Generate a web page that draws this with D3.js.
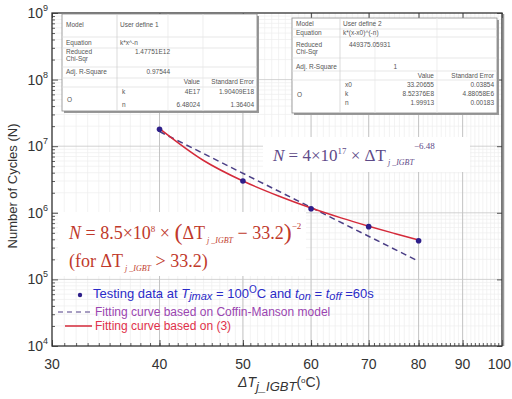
<!DOCTYPE html>
<html><head><meta charset="utf-8">
<script src="https://cdn.jsdelivr.net/npm/d3@7"></script>
<style>body{margin:0;background:#fff}svg{display:block}</style>
</head><body>
<svg id="c" width="512" height="399"></svg>
<script>
// ---- data ----
const testDT = [40, 50, 60, 70, 80];
const testN = [1.8e7, 3.0e6, 1.15e6, 6.2e5, 3.8e5];
const fitDT = [40, 45, 50, 55, 60, 65, 70, 75, 80];
const fitN = [1.84e7, 6.1e6, 3.0e6, 1.79e6, 1.18e6, 8.4e5, 6.3e5, 4.9e5, 3.9e5];
const cmDT = [40, 80];
const cmN = [1.66e7, 1.87e5];
const xTicks = [30, 40, 50, 60, 70, 80, 90, 100];
const yTicks = [1e4, 1e5, 1e6, 1e7, 1e8, 1e9];
const table1 = [["Model","User define 1"],["Equation","k*x^-n"],["Reduced\nChi-Sqr","1.47751E12"],["Adj. R-Square","0.97544"]];
const table1Params = [["k","4E17","1.90409E18"],["n","6.48024","1.36404"]];
const table2 = [["Model","User define 2"],["Equation","k*(x-x0)^(-n)"],["Reduced\nChi-Sqr","449375.05931"],["Adj. R-Square","1"]];
const table2Params = [["x0","33.20655","0.03854"],["k","8.52376E8","4.88058E6"],["n","1.99913","0.00183"]];

const svg = d3.select("#c");
const L = 52, R = 502, T = 13, B = 346;
const x = d3.scaleLog().domain([30, 100]).range([L, R]);
const y = d3.scaleLog().domain([1e4, 1e9]).range([B, T]);

// grid
const g = svg.append("g");
const minorX = d3.range(30, 101, 1);
const minorY = [];
for (let e = 4; e < 9; e++) for (let m = 2; m <= 9; m++) minorY.push(m * Math.pow(10, e));
g.selectAll(".mgx").data(minorX).enter().append("line")
  .attr("x1", d => x(d)).attr("x2", d => x(d)).attr("y1", T).attr("y2", B)
  .attr("stroke", "#eeeeee").attr("stroke-width", 0.7);
g.selectAll(".mgy").data(minorY).enter().append("line")
  .attr("y1", d => y(d)).attr("y2", d => y(d)).attr("x1", L).attr("x2", R)
  .attr("stroke", "#eeeeee").attr("stroke-width", 0.7);
g.selectAll(".gx").data(xTicks.slice(1, -1)).enter().append("line")
  .attr("x1", d => x(d)).attr("x2", d => x(d)).attr("y1", T).attr("y2", B)
  .attr("stroke", "#b8b8b8").attr("stroke-width", 0.8);
g.selectAll(".gy").data(yTicks.slice(1, -1)).enter().append("line")
  .attr("y1", d => y(d)).attr("y2", d => y(d)).attr("x1", L).attr("x2", R)
  .attr("stroke", "#c8c8c8").attr("stroke-width", 0.8);

// axes (ticks inside)
const axB = d3.axisBottom(x).tickValues(minorX).tickSize(-3).tickFormat("");
const axBM = d3.axisBottom(x).tickValues(xTicks).tickSize(-6).tickFormat("");
const axL = d3.axisLeft(y).tickValues(minorY).tickSize(-3).tickFormat("");
const axLM = d3.axisLeft(y).tickValues(yTicks).tickSize(-6).tickFormat("");
const axT = d3.axisTop(x).tickValues(xTicks).tickSize(-5).tickFormat("");
const axR = d3.axisRight(y).tickValues(yTicks).tickSize(-5).tickFormat("");
[[axB, `translate(0,${B})`], [axBM, `translate(0,${B})`], [axL, `translate(${L},0)`], [axLM, `translate(${L},0)`],
 [axT, `translate(0,${T})`], [axR, `translate(${R},0)`]].forEach(([a, tr]) => {
  const gg = svg.append("g").attr("transform", tr).call(a);
  gg.select(".domain").remove();
  gg.selectAll("line").attr("stroke", "#333").attr("stroke-width", 0.8);
});
// frame
svg.append("rect").attr("x", L).attr("y", T).attr("width", R - L).attr("height", B - T)
  .attr("fill", "none").attr("stroke", "#333").attr("stroke-width", 1.3);
svg.append("line").attr("x1", R + 1.5).attr("x2", R + 1.5).attr("y1", T + 1).attr("y2", B)
  .attr("stroke", "#999").attr("stroke-width", 1.5);

// tick labels
svg.selectAll(".xl").data(xTicks).enter().append("text")
  .attr("x", d => d === 100 ? 511 : x(d)).attr("y", 369).attr("text-anchor", d => d === 100 ? "end" : "middle")
  .attr("font-family", "Liberation Sans, Arial").attr("font-size", 14).attr("fill", "#333")
  .text(d => d);
const yl = svg.selectAll(".yl").data(yTicks).enter().append("text")
  .attr("x", 48).attr("y", d => y(d) + 5).attr("text-anchor", "end")
  .attr("font-family", "Liberation Sans, Arial").attr("font-size", 14).attr("fill", "#333");
yl.append("tspan").text("10");
yl.append("tspan").attr("dy", -7).attr("font-size", 9).text(d => Math.round(Math.log10(d)));

// axis titles
svg.append("text").attr("transform", "translate(17,186) rotate(-90)").attr("text-anchor", "middle")
  .attr("font-family", "Liberation Sans, Arial").attr("font-size", 13).attr("fill", "#333")
  .text("Number of Cycles (N)");
const xt = svg.append("text").attr("x", 238).attr("y", 387)
  .attr("font-family", "Liberation Sans, Arial").attr("font-size", 14).attr("fill", "#333");
xt.append("tspan").attr("font-style", "italic").text("ΔT");
xt.append("tspan").attr("dy", 4).attr("font-style", "italic").attr("font-size", 13).text("j_IGBT");
xt.append("tspan").attr("dy", -4).text("(");
xt.append("tspan").attr("dy", -4).attr("font-size", 8).text("o");
xt.append("tspan").attr("dy", 4).text("C)");

// tables
function drawTable(x0, x1, y0, y1, cols, rowLines, rows, rowY, header, hy, params, pY, oY) {
  const tg = svg.append("g").attr("font-family", "Liberation Sans, Arial").attr("font-size", 6.5).attr("fill", "#555");
  tg.append("rect").attr("x", x0 + 2).attr("y", y0 + 2).attr("width", x1 - x0).attr("height", y1 - y0).attr("fill", "#999");
  tg.append("rect").attr("x", x0).attr("y", y0).attr("width", x1 - x0).attr("height", y1 - y0)
    .attr("fill", "#fff").attr("stroke", "#888").attr("stroke-width", 0.8);
  rowLines.forEach(ly => tg.append("line").attr("x1", x0).attr("x2", x1).attr("y1", ly).attr("y2", ly).attr("stroke", "#ddd").attr("stroke-width", 0.7));
  cols.forEach((cx, i) => tg.append("line").attr("x1", cx).attr("x2", cx).attr("y1", y0).attr("y2", y1).attr("stroke", i === 0 ? "#ccc" : "#e6e6e6").attr("stroke-width", 0.7));
  rows.forEach((r, i) => {
    const lines = r[0].split("\n");
    lines.forEach((t, j) => tg.append("text").attr("x", x0 + 4).attr("y", rowY[i] + j * 7).text(t));
    const v = tg.append("text").attr("y", rowY[i]).text(r[1]);
    if (i < 2) v.attr("x", cols[0] + 3); else v.attr("x", r.vx || cols[1] + 2).attr("text-anchor", r.anchor || "end");
  });
  tg.append("text").attr("x", cols[2] - 3).attr("y", hy).attr("text-anchor", "end").text(header[0]);
  tg.append("text").attr("x", x1 - 3).attr("y", hy).attr("text-anchor", "end").text(header[1]);
  tg.append("text").attr("x", x0 + 5).attr("y", oY).text("O");
  params.forEach((p, i) => {
    tg.append("text").attr("x", cols[0] + 5).attr("y", pY[i]).text(p[0]);
    tg.append("text").attr("x", cols[2] - 3).attr("y", pY[i]).attr("text-anchor", "end").text(p[1]);
    tg.append("text").attr("x", x1 - 3).attr("y", pY[i]).attr("text-anchor", "end").text(p[2]);
  });
}
const t1rows = table1.map(r => r.slice());
t1rows[2].vx = 170; t1rows[3].vx = 170;
drawTable(62, 257, 14, 111, [117, 168, 203], [37, 48, 67, 78, 87], t1rows, [27, 45, 54, 74], ["Value", "Standard Error"], 84, table1Params, [94, 107], 102);
const t2rows = table2.map(r => r.slice());
t2rows[2].vx = 349; t2rows[2].anchor = "start"; t2rows[3].vx = 397;
drawTable(292, 497, 18, 113, [340, 375, 437], [29, 37, 58, 71, 80], t2rows, [26, 35, 47, 69], ["Value", "Standard Error"], 78, table2Params, [87, 96, 105], 97);

// equation boxes
svg.append("rect").attr("x", 263).attr("y", 137).attr("width", 207).attr("height", 35).attr("fill", "#fff");
svg.append("rect").attr("x", 58).attr("y", 212).attr("width", 248).attr("height", 64).attr("fill", "#fff");

// curves
const line = d3.line().x(d => x(d[0])).y(d => y(d[1]));
svg.append("path").datum(cmDT.map((d, i) => [d, cmN[i]])).attr("d", line)
  .attr("fill", "none").attr("stroke", "#4b3f86").attr("stroke-width", 1.5).attr("stroke-dasharray", "6,4");
svg.append("path").datum(fitDT.map((d, i) => [d, fitN[i]])).attr("d", line.curve(d3.curveMonotoneX))
  .attr("fill", "none").attr("stroke", "#d42a3a").attr("stroke-width", 1.5);
svg.selectAll(".pt").data(testDT).enter().append("circle")
  .attr("cx", d => x(d)).attr("cy", (d, i) => y(testN[i])).attr("r", 2.8).attr("fill", "#2e1f8a");

// equations
const e1 = svg.append("text").attr("x", 273).attr("y", 161).attr("font-family", "Liberation Serif, Times New Roman")
  .attr("font-size", 17).attr("fill", "#5e4a88");
e1.append("tspan").attr("font-style", "italic").text("N");
e1.append("tspan").text(" = 4×10");
e1.append("tspan").attr("dy", -7).attr("font-size", 9).text("17");
e1.append("tspan").attr("dy", 7).text(" × ΔT");
e1.append("tspan").attr("dy", 4).attr("font-size", 8).attr("font-style", "italic").text(" j _IGBT");
e1.append("tspan").attr("dy", -16).attr("font-size", 9).text("−6.48");

const e2 = svg.append("text").attr("x", 69).attr("y", 239).attr("font-family", "Liberation Serif, Times New Roman")
  .attr("font-size", 18).attr("fill", "#c0392b");
e2.append("tspan").attr("font-style", "italic").text("N");
e2.append("tspan").text(" = 8.5×10");
e2.append("tspan").attr("dy", -7).attr("font-size", 9).text("8");
e2.append("tspan").attr("dy", 7).text(" × ");
e2.append("tspan").attr("font-size", 24).attr("dy", 1).text("(");
e2.append("tspan").attr("dy", -1).text("ΔT");
e2.append("tspan").attr("dy", 4).attr("font-size", 8).attr("font-style", "italic").text(" j _IGBT");
e2.append("tspan").attr("dy", -4).text(" − 33.2");
e2.append("tspan").attr("font-size", 24).attr("dy", 1).text(")");
e2.append("tspan").attr("dy", -11).attr("font-size", 9).text("−2");
const e3 = svg.append("text").attr("x", 69).attr("y", 267).attr("font-family", "Liberation Serif, Times New Roman")
  .attr("font-size", 18).attr("fill", "#c0392b");
e3.append("tspan").text("(for ΔT");
e3.append("tspan").attr("dy", 4).attr("font-size", 8).attr("font-style", "italic").text(" j _IGBT");
e3.append("tspan").attr("dy", -4).text(" > 33.2)");

// legend
const lf = "Liberation Sans, Arial";
svg.append("circle").attr("cx", 80).attr("cy", 295).attr("r", 2.2).attr("fill", "#2e1f8a");
const l1 = svg.append("text").attr("x", 93).attr("y", 298).attr("font-family", lf).attr("font-size", 13).attr("fill", "#2b2bc8");
l1.append("tspan").text("Testing data at ");
l1.append("tspan").attr("font-style", "italic").text("T");
l1.append("tspan").attr("font-style", "italic").attr("dy", 2).attr("font-size", 11).text("jmax");
l1.append("tspan").attr("dy", -2).text(" = 100");
l1.append("tspan").attr("dy", -5).attr("font-size", 10).text("O");
l1.append("tspan").attr("dy", 5).text("C and  ");
l1.append("tspan").attr("font-style", "italic").text("t");
l1.append("tspan").attr("font-style", "italic").attr("dy", 2).attr("font-size", 11).text("on");
l1.append("tspan").attr("dy", -2).text(" = ");
l1.append("tspan").attr("font-style", "italic").text("t");
l1.append("tspan").attr("font-style", "italic").attr("dy", 2).attr("font-size", 11).text("off");
l1.append("tspan").attr("dy", -2).text(" =60s");
svg.append("line").attr("x1", 58).attr("x2", 92).attr("y1", 312).attr("y2", 312)
  .attr("stroke", "#8a7fae").attr("stroke-width", 1.5).attr("stroke-dasharray", "5,4");
svg.append("text").attr("x", 95).attr("y", 316).attr("font-family", lf).attr("font-size", 12).attr("fill", "#9a45b0")
  .text("Fitting curve based on Coffin-Manson model");
svg.append("line").attr("x1", 65).attr("x2", 92).attr("y1", 326).attr("y2", 326)
  .attr("stroke", "#d42a3a").attr("stroke-width", 1.5);
svg.append("text").attr("x", 95).attr("y", 330).attr("font-family", lf).attr("font-size", 12).attr("fill", "#e0304a")
  .text("Fitting curve based on (3)");
</script>
</body></html>
